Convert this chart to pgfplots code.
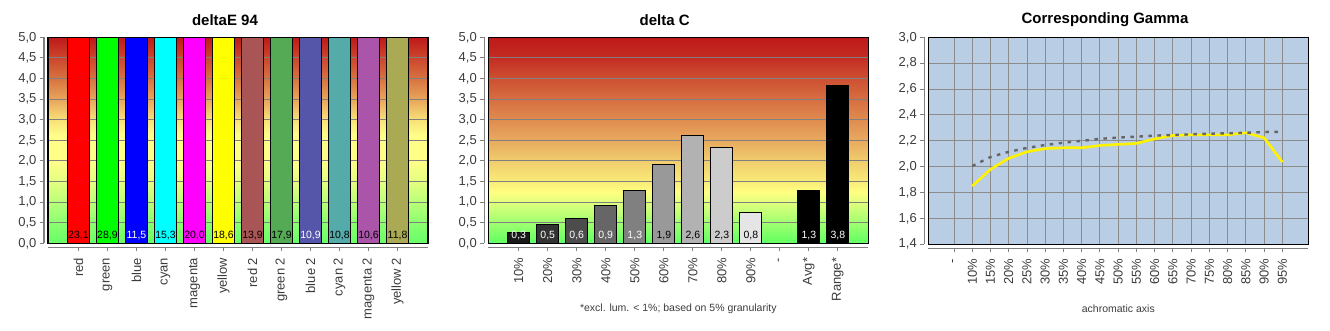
\documentclass[border=0pt]{standalone}
\usepackage{pgfplots}
\usepackage{pgfplotstable}
\pgfplotsset{compat=1.18}
\usepackage{fontspec}
\setmainfont{Liberation Sans}

\definecolor{axgray}{RGB}{128,128,128}
\definecolor{gridgray}{RGB}{128,128,128}
\definecolor{lblgray}{RGB}{60,60,60}
\definecolor{gammabg}{RGB}{185,205,228}
\definecolor{gammagrid}{RGB}{140,140,140}
\definecolor{gammadot}{RGB}{102,102,102}

% deltaE background
\definecolor{a00}{RGB}{102,255,102}
\definecolor{a05}{RGB}{140,255,112}
\definecolor{a10}{RGB}{185,255,120}
\definecolor{a15}{RGB}{228,255,128}
\definecolor{a20}{RGB}{255,255,136}
\definecolor{a26}{RGB}{255,255,136}
\definecolor{a30}{RGB}{248,225,120}
\definecolor{a35}{RGB}{232,165,90}
\definecolor{a40}{RGB}{216,115,65}
\definecolor{a45}{RGB}{204,70,45}
\definecolor{a50}{RGB}{190,25,25}
\pgfdeclareverticalshading{dEshade}{100bp}{color(0bp)=(a00); color(25bp)=(a00); color(30bp)=(a05); color(35bp)=(a10); color(40bp)=(a15); color(45bp)=(a20); color(51bp)=(a26); color(55bp)=(a30); color(60bp)=(a35); color(65bp)=(a40); color(70bp)=(a45); color(75bp)=(a50); color(100bp)=(a50)}

% delta C background
\definecolor{c00}{RGB}{96,255,96}
\definecolor{c05}{RGB}{160,255,112}
\definecolor{c10}{RGB}{225,255,125}
\definecolor{c12}{RGB}{255,255,128}
\definecolor{c15}{RGB}{250,235,120}
\definecolor{c20}{RGB}{240,205,110}
\definecolor{c25}{RGB}{232,170,95}
\definecolor{c30}{RGB}{224,140,80}
\definecolor{c35}{RGB}{214,110,65}
\definecolor{c40}{RGB}{205,80,50}
\definecolor{c45}{RGB}{196,45,35}
\definecolor{c50}{RGB}{190,25,25}
\pgfdeclareverticalshading{dCshade}{100bp}{color(0bp)=(c00); color(25bp)=(c00); color(30bp)=(c05); color(35bp)=(c10); color(37.5bp)=(c12); color(40bp)=(c15); color(45bp)=(c20); color(50bp)=(c25); color(55bp)=(c30); color(60bp)=(c35); color(65bp)=(c40); color(70bp)=(c45); color(75bp)=(c50); color(100bp)=(c50)}

% bar colours
\definecolor{cR}{RGB}{255,0,0}
\definecolor{cG}{RGB}{0,255,0}
\definecolor{cB}{RGB}{0,0,255}
\definecolor{cC}{RGB}{0,255,255}
\definecolor{cM}{RGB}{255,0,255}
\definecolor{cY}{RGB}{255,255,0}
\definecolor{cR2}{RGB}{170,85,85}
\definecolor{cG2}{RGB}{85,170,85}
\definecolor{cB2}{RGB}{85,85,170}
\definecolor{cC2}{RGB}{85,170,170}
\definecolor{cM2}{RGB}{170,85,170}
\definecolor{cY2}{RGB}{170,170,85}

\pgfplotsset{
  panel/.style={
    scale only axis, width=380pt, height=206pt, anchor=south west,
    axis lines*=left, axis x line shift=4pt, axis y line shift=4pt,
    axis line style={draw=axgray, line width=1.2pt},
    tick align=outside, major tick length=4pt,
    every tick/.style={draw=axgray, line width=1pt},
    ticklabel style={font=\fontsize{13}{14}\selectfont, text=lblgray},
    xticklabel style={rotate=90, anchor=east},
    xticklabel shift=3pt,
    /pgf/number format/assume math mode=true,
    /pgf/number format/use comma,
    /pgf/number format/fixed,
    /pgf/number format/fixed zerofill,
    /pgf/number format/precision=1,
    ymajorgrids, grid style={draw=gridgray, line width=1pt},
    xtick={0,...,11},
    xmin=-1.05, xmax=12.05, ymin=0, ymax=5, ytick={0,0.5,1,1.5,2,2.5,3,3.5,4,4.5,5},
  },
  frame/.style={scale only axis, width=380pt, height=206pt, anchor=south west,
    xmin=0, xmax=1, ymin=0, ymax=1, ticks=none,
    axis line style={draw=black, line width=1.3pt}},
  vlab/.style={draw=none, mark=none, nodes near coords, point meta=explicit symbolic,
    nodes near coords style={anchor=center, yshift=7.5pt, inner sep=0pt,
      font=\fontsize{10.5}{10.5}\selectfont, text=#1}},
  b/.style={ybar, bar width=22pt, bar shift=0pt, draw=black, line width=1pt, fill=#1},
}

\pgfplotstableread{
x y lab
0 0 23,1
1 0 28,9
3 0 15,3
4 0 20,0
5 0 18,6
6 0 13,9
7 0 17,9
9 0 10,8
10 0 10,6
11 0 11,8
}\dEblack
\pgfplotstableread{
x y lab
2 0 11,5
8 0 10,9
}\dEwhite
\pgfplotstableread{
x y lab
0 0 0,3
1 0 0,5
2 0 0,6
3 0 0,9
4 0 1,3
10 0 1,3
11 0 3,8
}\dCwhite
\pgfplotstableread{
x y lab
5 0 1,9
6 0 2,6
7 0 2,3
8 0 0,8
}\dCblack
\pgfplotstableread{
x yellow gray
1  1.850 2.005
2  1.980 2.075
3  2.065 2.115
4  2.115 2.145
5  2.140 2.168
6  2.146 2.185
7  2.146 2.200
8  2.164 2.215
9  2.172 2.225
10 2.180 2.232
11 2.215 2.240
12 2.241 2.245
13 2.246 2.250
14 2.246 2.255
15 2.246 2.258
16 2.262 2.262
17 2.223 2.268
18 2.035 2.270
}\gammadata

\begin{document}
\begin{tikzpicture}
\path[use as bounding box] (0pt,0pt) rectangle (1330pt,330pt);

% ---------------- deltaE 94 ----------------
\begin{axis}[panel, at={(48pt,86.7pt)},
  axis background/.style={shade, shading=dEshade},
  xticklabels={red,green,blue,cyan,magenta,yellow,red 2,green 2,blue 2,cyan 2,magenta 2,yellow 2}]
\addplot[b=cR]  coordinates {(0,23.1)};
\addplot[b=cG]  coordinates {(1,28.9)};
\addplot[b=cB]  coordinates {(2,11.5)};
\addplot[b=cC]  coordinates {(3,15.3)};
\addplot[b=cM]  coordinates {(4,20.0)};
\addplot[b=cY]  coordinates {(5,18.6)};
\addplot[b=cR2] coordinates {(6,13.9)};
\addplot[b=cG2] coordinates {(7,17.9)};
\addplot[b=cB2] coordinates {(8,10.9)};
\addplot[b=cC2] coordinates {(9,10.8)};
\addplot[b=cM2] coordinates {(10,10.6)};
\addplot[b=cY2] coordinates {(11,11.8)};
\addplot[vlab=black] table[x=x, y=y, meta=lab] {\dEblack};
\addplot[vlab=white] table[x=x, y=y, meta=lab] {\dEwhite};
\end{axis}
\begin{axis}[frame, at={(48pt,86.7pt)}]
\end{axis}

% ---------------- delta C ----------------
\begin{axis}[panel, at={(488.3pt,86.7pt)},
  axis background/.style={shade, shading=dCshade},
  xticklabels={10\%,20\%,30\%,40\%,50\%,60\%,70\%,80\%,90\%,-,Avg*,Range*}]
\addplot[b=black!90] coordinates {(0,0.27)};
\addplot[b=black!80] coordinates {(1,0.46)};
\addplot[b=black!70] coordinates {(2,0.61)};
\addplot[b=black!60] coordinates {(3,0.92)};
\addplot[b=black!50] coordinates {(4,1.29)};
\addplot[b=black!40] coordinates {(5,1.92)};
\addplot[b=black!30] coordinates {(6,2.62)};
\addplot[b=black!20] coordinates {(7,2.33)};
\addplot[b=black!10] coordinates {(8,0.75)};
\addplot[b=black] coordinates {(10,1.27)};
\addplot[b=black] coordinates {(11,3.83)};
\addplot[vlab=white] table[x=x, y=y, meta=lab] {\dCwhite};
\addplot[vlab=black] table[x=x, y=y, meta=lab] {\dCblack};
\end{axis}
\begin{axis}[frame, at={(488.3pt,86.7pt)}]
\end{axis}

% ---------------- Corresponding Gamma ----------------
\begin{axis}[panel, at={(928.3pt,85.7pt)}, height=207pt,
  axis background/.style={fill=gammabg},
  xmin=-1.41, xmax=19.42, ymin=1.4, ymax=3.0,
  ytick={1.4,1.6,1.8,2.0,2.2,2.4,2.6,2.8,3.0},
  xtick={0,...,18},
  xticklabels={-,10\%,15\%,20\%,25\%,30\%,35\%,40\%,45\%,50\%,55\%,60\%,65\%,70\%,75\%,80\%,85\%,90\%,95\%},
  xmajorgrids, ymajorgrids, grid style={draw=gammagrid, line width=1pt}]
\addplot[draw=yellow, line width=2.6pt, line join=round] table[x=x, y=yellow] {\gammadata};
\addplot[draw=gammadot, line width=2.4pt, dash pattern=on 3.5pt off 5.5pt] table[x=x, y=gray] {\gammadata};
\end{axis}
\begin{axis}[frame, at={(928.3pt,85.7pt)}, height=207pt]
\end{axis}

% titles and notes
\node[font=\bfseries\fontsize{15}{17}\selectfont] at (225pt,310pt) {deltaE 94};
\node[font=\bfseries\fontsize{15}{17}\selectfont] at (664.7pt,310pt) {delta C};
\node[font=\bfseries\fontsize{15}{17}\selectfont] at (1105pt,310pt) {Corresponding Gamma};
\node[font=\fontsize{10.5}{12}\selectfont, text=lblgray] at (678.3pt,21pt) {*excl. lum. < 1\%; based on 5\% granularity};
\node[font=\fontsize{10.5}{12}\selectfont, text=lblgray] at (1118.3pt,21pt) {achromatic axis};
\end{tikzpicture}
\end{document}
